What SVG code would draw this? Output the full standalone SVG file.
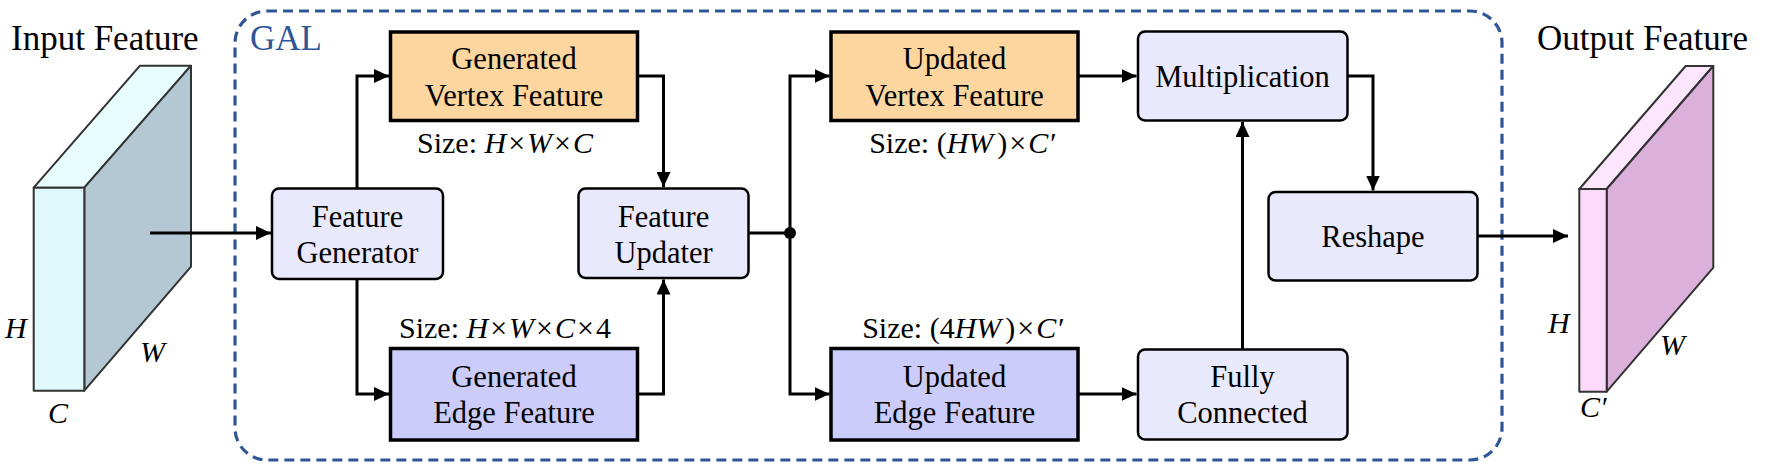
<svg xmlns="http://www.w3.org/2000/svg" width="1765" height="471" viewBox="0 0 1765 471" font-family="'Liberation Serif', 'Times New Roman', serif">
<style>
text{font-family:"Liberation Serif","Times New Roman",serif;fill:#000}
.t{font-size:30.5px;text-anchor:middle}
.s{font-size:30px;text-anchor:middle}
.h{font-size:35px}
.i{font-style:italic}
.lt{fill:#E8E9FC;stroke:#000;stroke-width:2.5}
.or{fill:#FDD69F;stroke:#000;stroke-width:3.5}
.pu{fill:#CCCCFA;stroke:#000;stroke-width:3.5}
.c{fill:none;stroke:#000;stroke-width:3}
.cube{stroke:#333;stroke-width:2;stroke-linejoin:round}
</style>
<defs>
<marker id="ah" markerUnits="userSpaceOnUse" markerWidth="15" markerHeight="14" refX="15" refY="7" orient="auto">
<path d="M0,0 L15,7 L0,14 z" fill="#000"/>
</marker>
</defs>

<g id="gal">
<rect x="235" y="11" width="1267" height="449" rx="32" fill="none" stroke="#2F5597" stroke-width="3.2" stroke-dasharray="10 6"/>
<text x="250" y="50" class="h" style="fill:#2F5597">GAL</text>
</g>

<g id="input">
<polygon class="cube" points="33.7,187.7 140,65.7 191,65.7 84.3,187.7" fill="#E6FCFD"/>
<polygon class="cube" points="84.3,187.7 191,65.7 191,266.7 84.3,390.7" fill="#B4C8D4"/>
<rect class="cube" x="33.7" y="187.7" width="50.6" height="203" fill="#DFF8FC"/>
<text x="11" y="50" class="h">Input Feature</text>
<text x="5" y="338" class="i" style="font-size:30px">H</text>
<text x="140" y="362" class="i" style="font-size:30px">W</text>
<text x="48" y="423" class="i" style="font-size:30px">C</text>
</g>

<g id="output">
<polygon class="cube" points="1579.3,189 1685.7,66 1713.3,66 1606.7,189" fill="#FDE6FD"/>
<polygon class="cube" points="1606.7,189 1713.3,66 1713.3,267.7 1606.7,391.7" fill="#DBB0DA"/>
<rect class="cube" x="1579.3" y="189" width="27.4" height="202.7" fill="#FDD9FB"/>
<text x="1537" y="50" class="h">Output Feature</text>
<text x="1548" y="333" class="i" style="font-size:30px">H</text>
<text x="1660" y="355" class="i" style="font-size:30px">W</text>
<text x="1580" y="417" class="i" style="font-size:30px">C′</text>
</g>

<g id="featgen">
<rect class="lt" x="272" y="188.5" width="171" height="90.5" rx="7"/>
<text class="t" x="357.5" y="226.5">Feature</text>
<text class="t" x="357.5" y="262.5">Generator</text>
</g>

<g id="genvertex">
<rect class="or" x="390.5" y="32" width="247" height="88.5"/>
<text class="t" x="514" y="68.5">Generated</text>
<text class="t" x="514" y="106">Vertex Feature</text>
<text class="s" x="505" y="153">Size: <tspan class="i">H</tspan><tspan dx="2">×</tspan><tspan class="i" dx="2">W</tspan><tspan dx="2">×</tspan><tspan class="i" dx="2">C</tspan></text>
</g>

<g id="genedge">
<rect class="pu" x="390.5" y="348.5" width="247" height="91.5"/>
<text class="t" x="514" y="386.5">Generated</text>
<text class="t" x="514" y="423">Edge Feature</text>
<text class="s" x="505" y="337.5">Size: <tspan class="i">H</tspan><tspan dx="2">×</tspan><tspan class="i" dx="2">W</tspan><tspan dx="2">×</tspan><tspan class="i" dx="2">C</tspan><tspan dx="2">×</tspan><tspan dx="2">4</tspan></text>
</g>

<g id="featupd">
<rect class="lt" x="578.5" y="188.5" width="170" height="89.5" rx="7"/>
<text class="t" x="663.5" y="226.5">Feature</text>
<text class="t" x="663.5" y="262.5">Updater</text>
</g>

<g id="updvertex">
<rect class="or" x="831" y="32" width="247" height="88.5"/>
<text class="t" x="954.5" y="68.5">Updated</text>
<text class="t" x="954.5" y="106">Vertex Feature</text>
<text class="s" x="962" y="153">Size: (<tspan class="i">HW</tspan><tspan dx="4">)</tspan><tspan dx="2">×</tspan><tspan class="i" dx="2">C′</tspan></text>
</g>

<g id="updedge">
<rect class="pu" x="831" y="348.5" width="247" height="91.5"/>
<text class="t" x="954.5" y="386.5">Updated</text>
<text class="t" x="954.5" y="423">Edge Feature</text>
<text class="s" x="962.5" y="338">Size: (4<tspan class="i">HW</tspan><tspan dx="4">)</tspan><tspan dx="2">×</tspan><tspan class="i" dx="2">C′</tspan></text>
</g>

<g id="mult">
<rect class="lt" x="1138" y="31.5" width="209.5" height="89" rx="7"/>
<text class="t" x="1242.5" y="86.5">Multiplication</text>
</g>

<g id="reshape">
<rect class="lt" x="1268.5" y="192" width="209" height="88.5" rx="7"/>
<text class="t" x="1373" y="246.5">Reshape</text>
</g>

<g id="fc">
<rect class="lt" x="1138" y="349.5" width="209.5" height="90" rx="7"/>
<text class="t" x="1242.5" y="386.5">Fully</text>
<text class="t" x="1242.5" y="423">Connected</text>
</g>

<g id="connectors">
<line class="c" x1="150" y1="233" x2="271" y2="233" marker-end="url(#ah)"/>
<polyline class="c" points="357,188.5 357,76 389,76" marker-end="url(#ah)"/>
<polyline class="c" points="357,279 357,394 389,394" marker-end="url(#ah)"/>
<polyline class="c" points="637.5,76 663.5,76 663.5,187" marker-end="url(#ah)"/>
<polyline class="c" points="637.5,394 663.5,394 663.5,279.5" marker-end="url(#ah)"/>
<line class="c" x1="748.5" y1="233" x2="790" y2="233"/>
<circle cx="790" cy="233" r="6" fill="#000"/>
<polyline class="c" points="790,233 790,76 829.5,76" marker-end="url(#ah)"/>
<polyline class="c" points="790,233 790,394 829.5,394" marker-end="url(#ah)"/>
<line class="c" x1="1078" y1="76" x2="1136.5" y2="76" marker-end="url(#ah)"/>
<line class="c" x1="1078" y1="394" x2="1136.5" y2="394" marker-end="url(#ah)"/>
<polyline class="c" points="1347.5,76 1373,76 1373,190.5" marker-end="url(#ah)"/>
<line class="c" x1="1242.5" y1="349.5" x2="1242.5" y2="122" marker-end="url(#ah)"/>
<line class="c" x1="1477.5" y1="236" x2="1568" y2="236" marker-end="url(#ah)"/>
</g>
</svg>
